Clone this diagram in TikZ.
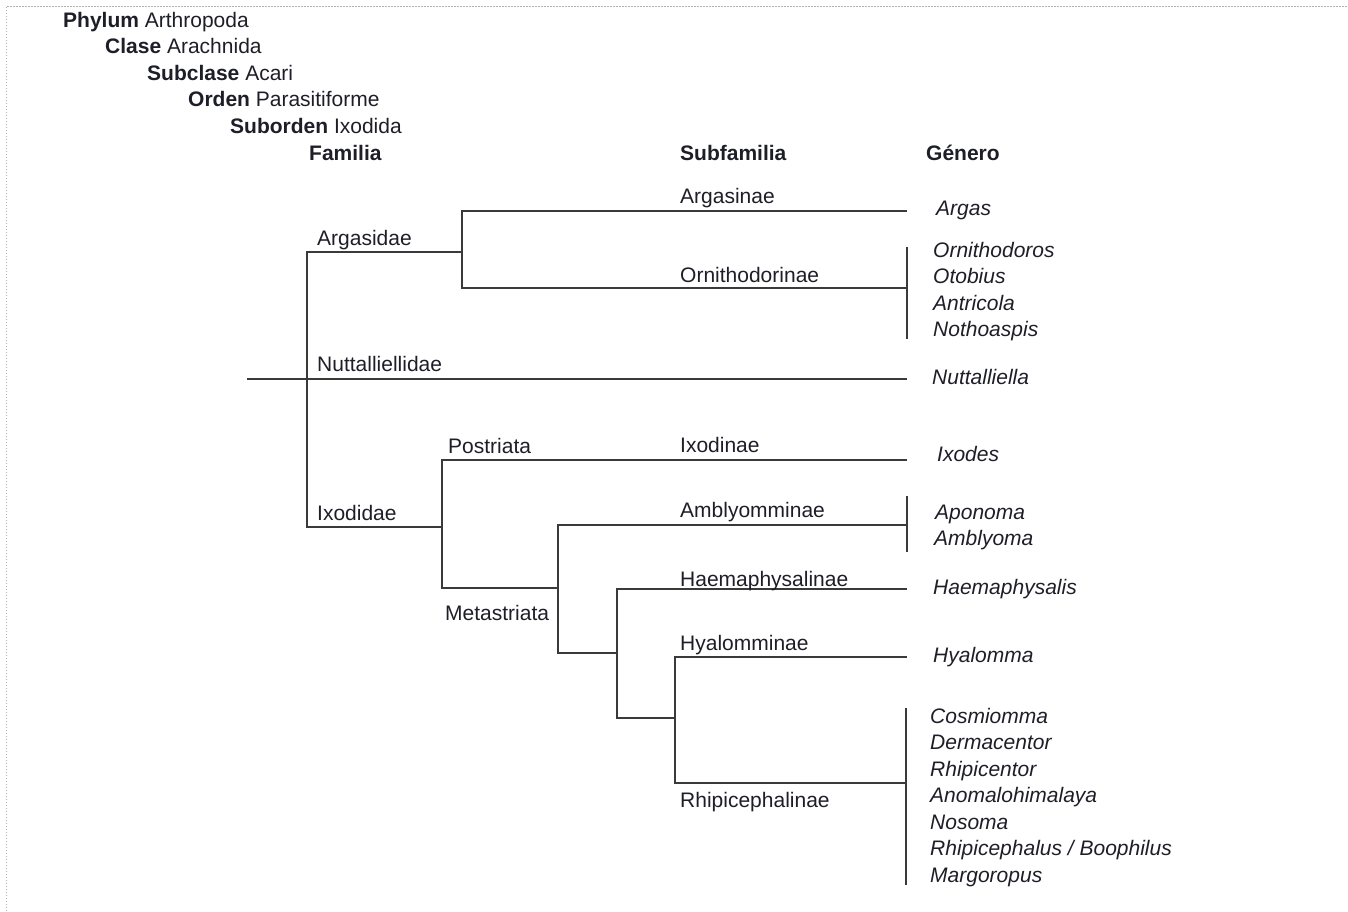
\documentclass[tikz,border=0pt]{standalone}
\usepackage{fontspec}
\setmainfont{Liberation Sans}
\definecolor{linea}{HTML}{3A3A3A}
\definecolor{texto}{HTML}{1E1E28}
\begin{document}
\begin{tikzpicture}[x=1pt, y=-1pt,
  lbl/.style={anchor=base west, inner sep=0pt, text=texto, font=\fontsize{21}{25}\selectfont},
  gen/.style={lbl, font=\fontsize{21}{25}\selectfont\itshape},
  rama/.style={draw=linea, line width=1.8pt}]
\useasboundingbox (0,0) rectangle (1348,911);
\draw[gray!60, line width=1pt, dash pattern=on 1.5pt off 1.5pt] (6,911) -- (6,6) -- (1348,6);
% rangos
\node[lbl] (phy) at (63,27) {\textbf{Phylum} Arthropoda};
\node[lbl] (cla) at (105,53.5) {\textbf{Clase} Arachnida};
\node[lbl] (subc) at (147,80) {\textbf{Subclase} Acari};
\node[lbl] (ord) at (188,106.5) {\textbf{Orden} Parasitiforme};
\node[lbl] (subo) at (230,133) {\textbf{Suborden} Ixodida};
\node[lbl] (famh) at (309,160) {\textbf{Familia}};
\node[lbl] (subfh) at (680,160) {\textbf{Subfamilia}};
\node[lbl] (genh) at (926,160) {\textbf{Género}};
% puntos del arbol
\coordinate (r0) at (247,379);
\coordinate (fam) at (307,379);
\coordinate (arg) at (462,252);
\coordinate (ixo) at (442,527);
\coordinate (meta) at (558,588);
\coordinate (m2) at (617,653);
\coordinate (m3) at (675,718);
\coordinate (argasE) at (907,211);
\coordinate (ornE) at (907,288);
\coordinate (nutE) at (907,379);
\coordinate (ixodE) at (907,460);
\coordinate (ambE) at (907,525);
\coordinate (haeE) at (907,589);
\coordinate (hyaE) at (907,657);
\coordinate (rhiE) at (907,783);
\coordinate (ornT) at (907,247); \coordinate (ornB) at (907,339);
\coordinate (ambT) at (907,496); \coordinate (ambB) at (907,552);
\coordinate (rhiT) at (906,708); \coordinate (rhiB) at (906,885);
\draw[rama] (r0) -- (nutE);
\draw[rama] (fam) |- (arg);
\draw[rama] (fam) |- (ixo);
\draw[rama] (arg) |- (argasE);
\draw[rama] (arg) |- (ornE);
\draw[rama] (ixo) |- (ixodE);
\draw[rama] (ixo) |- (meta);
\draw[rama] (meta) |- (ambE);
\draw[rama] (meta) |- (m2);
\draw[rama] (m2) |- (haeE);
\draw[rama] (m2) |- (m3);
\draw[rama] (m3) |- (hyaE);
\draw[rama] (m3) |- (rhiE);
\draw[rama] (ornT) -- (ornB);
\draw[rama] (ambT) -- (ambB);
\draw[rama] (rhiT) -- (rhiB);
% familias y subfamilias
\node[lbl] (argasidae) at (317,245) {Argasidae};
\node[lbl] (nuttalliellidae) at (317,371) {Nuttalliellidae};
\node[lbl] (ixodidae) at (317,520) {Ixodidae};
\node[lbl] (postriata) at (448,453) {Postriata};
\node[lbl] (metastriata) at (445,620) {Metastriata};
\node[lbl] (argasinae) at (680,203) {Argasinae};
\node[lbl] (ornithodorinae) at (680,282) {Ornithodorinae};
\node[lbl] (ixodinae) at (680,452) {Ixodinae};
\node[lbl] (amblyomminae) at (680,517) {Amblyomminae};
\node[lbl] (haemaphysalinae) at (680,586) {Haemaphysalinae};
\node[lbl] (hyalomminae) at (680,650) {Hyalomminae};
\node[lbl] (rhipicephalinae) at (680,807) {Rhipicephalinae};
% generos
\node[gen] (argas) at (936,215) {Argas};
\node[gen] (ornithodoros) at (933,257) {Ornithodoros};
\node[gen] (otobius) at (933,283.5) {Otobius};
\node[gen] (antricola) at (933,310) {Antricola};
\node[gen] (nothoaspis) at (933,336.5) {Nothoaspis};
\node[gen] (nuttalliella) at (932,384) {Nuttalliella};
\node[gen] (ixodes) at (937,461) {Ixodes};
\node[gen] (aponoma) at (935,519) {Aponoma};
\node[gen] (amblyoma) at (934,545) {Amblyoma};
\node[gen] (haemaphysalis) at (933,594) {Haemaphysalis};
\node[gen] (hyalomma) at (933,662) {Hyalomma};
\node[gen] (cosmiomma) at (930,723) {Cosmiomma};
\node[gen] (dermacentor) at (930,749.5) {Dermacentor};
\node[gen] (rhipicentor) at (930,776) {Rhipicentor};
\node[gen] (anomalohimalaya) at (930,802.5) {Anomalohimalaya};
\node[gen] (nosoma) at (930,829) {Nosoma};
\node[gen] (rhipicephalus) at (930,855.5) {Rhipicephalus / Boophilus};
\node[gen] (margoropus) at (930,882) {Margoropus};
\end{tikzpicture}
\end{document}
